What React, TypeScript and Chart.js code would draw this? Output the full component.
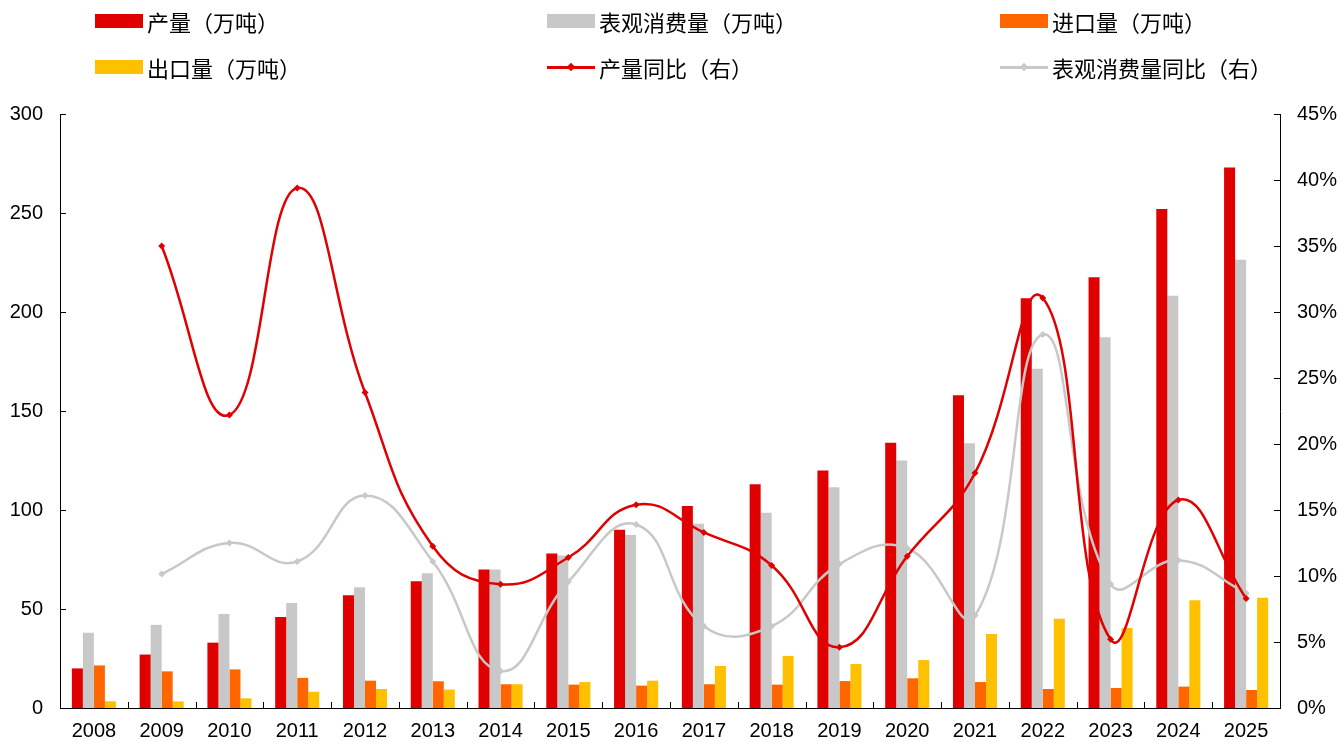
import React, { useEffect, useRef } from "react";
import { Chart, registerables } from "chart.js";

Chart.register(...registerables);

const years = ["2008", "2009", "2010", "2011", "2012", "2013", "2014", "2015", "2016", "2017", "2018", "2019", "2020", "2021", "2022", "2023", "2024", "2025"];
const production = [20, 27, 33, 46, 57, 64, 70, 78, 90, 102, 113, 120, 134, 158, 207, 217.5, 252, 273];
const consumption = [38, 42, 47.5, 53, 61, 68, 70, 77, 87.4, 93, 98.6, 111.5, 125, 133.7, 171.4, 187.2, 208.2, 226.4];
const imports = [21.5, 18.5, 19.5, 15.2, 13.8, 13.5, 12, 11.8, 11.3, 12, 11.8, 13.6, 15, 13.1, 9.6, 10.1, 10.8, 9.1];
const exportsQty = [3.4, 3.3, 4.9, 8.2, 9.6, 9.3, 12, 13.1, 13.8, 21.2, 26.3, 22.2, 24.2, 37.4, 45.1, 40.4, 54.4, 55.7];
const productionYoY = [null, 35.0, 22.2, 39.4, 23.9, 12.25, 9.37, 11.4, 15.4, 13.3, 10.8, 4.6, 11.5, 17.8, 31.06, 5.2, 15.76, 8.3];
const consumptionYoY = [null, 10.15, 12.5, 11.1, 16.1, 11.1, 2.8, 9.57, 13.9, 6.2, 6.2, 10.9, 12.1, 7.0, 28.3, 9.4, 11.2, 8.7];

const seriesLabels = ["产量（万吨）", "表观消费量（万吨）", "进口量（万吨）", "出口量（万吨）", "产量同比（右）", "表观消费量同比（右）"];
const seriesColors = ["#E00000", "#C8C8C8", "#FF6600", "#FFC000", "#E00000", "#C8C8C8"];
const seriesKinds = ["bar", "bar", "bar", "bar", "line", "line"];

const leftMin = 0;
const leftMax = 300;
const leftStep = 50;
const rightMin = 0;
const rightMax = 45;
const rightStep = 5;

const FONT = '"Liberation Sans", "Noto Sans CJK SC", Arial, sans-serif';

const innerTicks = {
  id: "innerTicks",
  afterDraw(chart: any) {
    const { ctx, chartArea } = chart;
    const { left, right, bottom } = chartArea;
    const len = 6;
    ctx.save();
    ctx.strokeStyle = "#000";
    ctx.lineWidth = 1;
    ctx.beginPath();
    const y = chart.scales.y;
    y.ticks.forEach((_t: any, i: number) => {
      const py = Math.round(y.getPixelForTick(i)) + 0.5;
      ctx.moveTo(left, py);
      ctx.lineTo(left + len, py);
    });
    const y1 = chart.scales.y1;
    y1.ticks.forEach((_t: any, i: number) => {
      const py = Math.round(y1.getPixelForTick(i)) + 0.5;
      ctx.moveTo(right, py);
      ctx.lineTo(right - len, py);
    });
    const x = chart.scales.x;
    const n = x.ticks.length;
    for (let i = 1; i < n; i++) {
      const px = Math.round((x.getPixelForTick(i - 1) + x.getPixelForTick(i)) / 2) + 0.5;
      ctx.moveTo(px, bottom);
      ctx.lineTo(px, bottom - len);
    }
    ctx.stroke();
    ctx.restore();
  },
};

export default function App() {
  const canvasRef = useRef<HTMLCanvasElement | null>(null);

  useEffect(() => {
    if (!canvasRef.current) return;
    Chart.defaults.font.family = FONT;
    const barData = [production, consumption, imports, exportsQty];
    const lineData = [productionYoY, consumptionYoY];
    const datasets: any[] = [];
    barData.forEach((d, i) => {
      datasets.push({
        type: "bar",
        label: seriesLabels[i],
        data: d,
        backgroundColor: seriesColors[i],
        borderWidth: 0,
        yAxisID: "y",
        order: 1,
        categoryPercentage: 0.65,
        barPercentage: 1,
      });
    });
    lineData.forEach((d, j) => {
      const i = 4 + j;
      datasets.push({
        type: "line",
        label: seriesLabels[i],
        data: d,
        borderColor: seriesColors[i],
        backgroundColor: seriesColors[i],
        borderWidth: 2.5,
        pointStyle: "rectRot",
        pointRadius: 3.5,
        pointBorderWidth: 0,
        tension: 0.45,
        yAxisID: "y1",
        order: 0,
        fill: false,
      });
    });

    const chart = new Chart(canvasRef.current, {
      type: "bar",
      data: { labels: years, datasets },
      options: {
        animation: false,
        responsive: true,
        maintainAspectRatio: false,
        layout: { padding: { top: 114, left: 0, right: 0, bottom: 0 } },
        plugins: { legend: { display: false }, tooltip: { enabled: false } },
        scales: {
          x: {
            offset: true,
            grid: { display: false },
            border: { display: true, color: "#000", width: 1 },
            ticks: { color: "#000", font: { size: 20, family: FONT }, padding: 3, maxRotation: 0, autoSkip: false },
            afterFit(scale: any) {
              scale.height = 34;
            },
          },
          y: {
            position: "left",
            min: leftMin,
            max: leftMax,
            grid: { display: false, drawTicks: false },
            border: { display: true, color: "#000", width: 1 },
            ticks: { stepSize: leftStep, color: "#000", font: { size: 20, family: FONT }, padding: 17 },
            afterFit(scale: any) {
              scale.width = 60;
            },
          },
          y1: {
            position: "right",
            min: rightMin,
            max: rightMax,
            grid: { display: false, drawTicks: false },
            border: { display: true, color: "#000", width: 1 },
            ticks: {
              stepSize: rightStep,
              color: "#000",
              font: { size: 20, family: FONT },
              padding: 17,
              callback: (v: any) => `${v}%`,
            },
            afterFit(scale: any) {
              scale.width = 59;
            },
          },
        },
      } as any,
      plugins: [innerTicks],
    });
    return () => chart.destroy();
  }, []);

  const cols = [95, 547, 1000];
  const rows = [21, 67];

  return (
    <div style={{ position: "fixed", left: 0, top: 0, width: 1339, height: 742, background: "#fff" }}>
      <canvas ref={canvasRef} style={{ position: "absolute", left: 0, top: 0 }} />
      {seriesLabels.map((label, i) => {
        const left = cols[i % 3];
        const top = rows[Math.floor(i / 3)];
        const isLine = seriesKinds[i] === "line";
        return (
          <div
            key={label}
            style={{
              position: "absolute",
              left,
              top: top - 15,
              height: 30,
              display: "flex",
              alignItems: "center",
              fontFamily: FONT,
              fontSize: 22,
              color: "#000",
              whiteSpace: "nowrap",
            }}
          >
            {isLine ? (
              <div style={{ position: "relative", width: 48, height: 14, marginRight: 4 }}>
                <div style={{ position: "absolute", left: 0, top: 6, width: 48, height: 2.5, background: seriesColors[i] }} />
                <div
                  style={{
                    position: "absolute",
                    left: 21,
                    top: 4,
                    width: 6,
                    height: 6,
                    background: seriesColors[i],
                    transform: "rotate(45deg)",
                  }}
                />
              </div>
            ) : (
              <div style={{ width: 48, height: 14, background: seriesColors[i], marginRight: 4 }} />
            )}
            <span>{label}</span>
          </div>
        );
      })}
    </div>
  );
}
